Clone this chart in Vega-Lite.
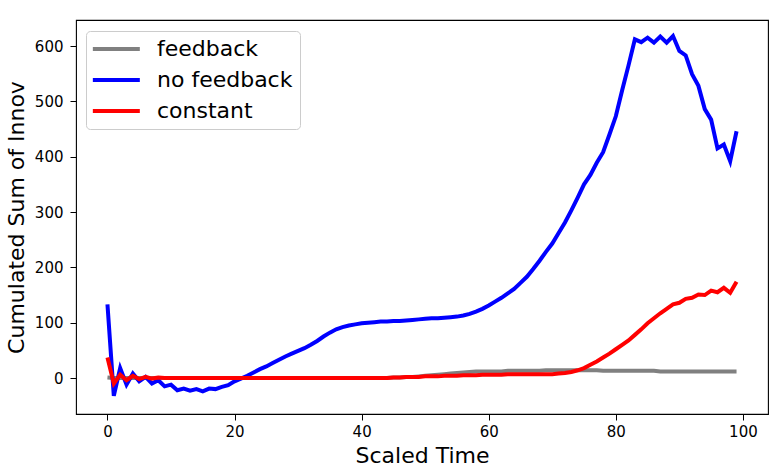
{
  "$schema": "https://vega.github.io/schema/vega-lite/v6.json",
  "width": 692,
  "height": 394,
  "autosize": "none",
  "padding": {"left": 76, "top": 20, "right": 10, "bottom": 53},
  "background": "white",
  "config": {
    "view": {"stroke": "black", "strokeWidth": 1.1},
    "font": "DejaVu Sans",
    "axis": {
      "grid": false,
      "domain": false,
      "tickColor": "black",
      "tickSize": 6,
      "tickWidth": 1,
      "labelColor": "black",
      "labelFont": "DejaVu Sans",
      "labelFontSize": 15,
      "labelPadding": 4,
      "titleFont": "DejaVu Sans",
      "titleFontSize": 22,
      "titleFontWeight": "normal",
      "titleColor": "black"
    }
  },
  "data": {
    "values": [
      {"t":0,"feedback":1,"no feedback":133,"constant":37},
      {"t":1,"feedback":0,"no feedback":-32,"constant":-10},
      {"t":2,"feedback":0,"no feedback":18,"constant":6},
      {"t":3,"feedback":0,"no feedback":-12,"constant":-4},
      {"t":4,"feedback":0,"no feedback":8,"constant":4},
      {"t":5,"feedback":0,"no feedback":-6,"constant":-2},
      {"t":6,"feedback":0,"no feedback":2,"constant":2},
      {"t":7,"feedback":0,"no feedback":-10,"constant":-1},
      {"t":8,"feedback":0,"no feedback":-4,"constant":1},
      {"t":9,"feedback":0,"no feedback":-15,"constant":0},
      {"t":10,"feedback":0,"no feedback":-12,"constant":0},
      {"t":11,"feedback":0,"no feedback":-22,"constant":0},
      {"t":12,"feedback":0,"no feedback":-19,"constant":0},
      {"t":13,"feedback":0,"no feedback":-23,"constant":0},
      {"t":14,"feedback":0,"no feedback":-20,"constant":0},
      {"t":15,"feedback":0,"no feedback":-24,"constant":0},
      {"t":16,"feedback":0,"no feedback":-19,"constant":0},
      {"t":17,"feedback":0,"no feedback":-20,"constant":0},
      {"t":18,"feedback":0,"no feedback":-16,"constant":0},
      {"t":19,"feedback":0,"no feedback":-13,"constant":0},
      {"t":20,"feedback":0,"no feedback":-6,"constant":0},
      {"t":21,"feedback":0,"no feedback":-1,"constant":0},
      {"t":22,"feedback":0,"no feedback":4,"constant":0},
      {"t":23,"feedback":0,"no feedback":10,"constant":0},
      {"t":24,"feedback":0,"no feedback":16,"constant":0},
      {"t":25,"feedback":0,"no feedback":21,"constant":0},
      {"t":26,"feedback":0,"no feedback":27,"constant":0},
      {"t":27,"feedback":0,"no feedback":33,"constant":0},
      {"t":28,"feedback":0,"no feedback":39,"constant":0},
      {"t":29,"feedback":0,"no feedback":44,"constant":0},
      {"t":30,"feedback":0,"no feedback":49,"constant":0},
      {"t":31,"feedback":0,"no feedback":54,"constant":0},
      {"t":32,"feedback":0,"no feedback":60,"constant":0},
      {"t":33,"feedback":0,"no feedback":67,"constant":0},
      {"t":34,"feedback":0,"no feedback":75,"constant":0},
      {"t":35,"feedback":0,"no feedback":82,"constant":0},
      {"t":36,"feedback":0,"no feedback":88,"constant":0},
      {"t":37,"feedback":0,"no feedback":92,"constant":0},
      {"t":38,"feedback":0,"no feedback":95,"constant":0},
      {"t":39,"feedback":0,"no feedback":97,"constant":0},
      {"t":40,"feedback":0,"no feedback":99,"constant":0},
      {"t":41,"feedback":0,"no feedback":100,"constant":0},
      {"t":42,"feedback":0,"no feedback":101,"constant":0},
      {"t":43,"feedback":0,"no feedback":102,"constant":0},
      {"t":44,"feedback":0,"no feedback":102,"constant":0},
      {"t":45,"feedback":1,"no feedback":103,"constant":1},
      {"t":46,"feedback":1,"no feedback":103,"constant":1},
      {"t":47,"feedback":2,"no feedback":104,"constant":2},
      {"t":48,"feedback":2,"no feedback":105,"constant":2},
      {"t":49,"feedback":3,"no feedback":106,"constant":2},
      {"t":50,"feedback":4,"no feedback":107,"constant":3},
      {"t":51,"feedback":5,"no feedback":108,"constant":3},
      {"t":52,"feedback":6,"no feedback":108,"constant":3},
      {"t":53,"feedback":7,"no feedback":109,"constant":4},
      {"t":54,"feedback":8,"no feedback":110,"constant":4},
      {"t":55,"feedback":9,"no feedback":111,"constant":4},
      {"t":56,"feedback":10,"no feedback":113,"constant":5},
      {"t":57,"feedback":11,"no feedback":116,"constant":5},
      {"t":58,"feedback":12,"no feedback":120,"constant":5},
      {"t":59,"feedback":12,"no feedback":125,"constant":6},
      {"t":60,"feedback":12,"no feedback":131,"constant":6},
      {"t":61,"feedback":12,"no feedback":138,"constant":6},
      {"t":62,"feedback":12,"no feedback":145,"constant":6},
      {"t":63,"feedback":13,"no feedback":153,"constant":7},
      {"t":64,"feedback":13,"no feedback":161,"constant":7},
      {"t":65,"feedback":13,"no feedback":172,"constant":7},
      {"t":66,"feedback":13,"no feedback":183,"constant":7},
      {"t":67,"feedback":13,"no feedback":197,"constant":7},
      {"t":68,"feedback":13,"no feedback":212,"constant":7},
      {"t":69,"feedback":14,"no feedback":228,"constant":7},
      {"t":70,"feedback":14,"no feedback":243,"constant":7},
      {"t":71,"feedback":14,"no feedback":262,"constant":8},
      {"t":72,"feedback":14,"no feedback":281,"constant":9},
      {"t":73,"feedback":14,"no feedback":303,"constant":11},
      {"t":74,"feedback":14,"no feedback":326,"constant":14},
      {"t":75,"feedback":14,"no feedback":350,"constant":18},
      {"t":76,"feedback":14,"no feedback":367,"constant":24},
      {"t":77,"feedback":14,"no feedback":389,"constant":30},
      {"t":78,"feedback":13,"no feedback":408,"constant":37},
      {"t":79,"feedback":13,"no feedback":440,"constant":44},
      {"t":80,"feedback":13,"no feedback":473,"constant":52},
      {"t":81,"feedback":13,"no feedback":520,"constant":60},
      {"t":82,"feedback":13,"no feedback":565,"constant":68},
      {"t":83,"feedback":13,"no feedback":612,"constant":78},
      {"t":84,"feedback":13,"no feedback":607,"constant":88},
      {"t":85,"feedback":13,"no feedback":615,"constant":99},
      {"t":86,"feedback":13,"no feedback":606,"constant":108},
      {"t":87,"feedback":12,"no feedback":617,"constant":117},
      {"t":88,"feedback":12,"no feedback":606,"constant":125},
      {"t":89,"feedback":12,"no feedback":618,"constant":133},
      {"t":90,"feedback":12,"no feedback":591,"constant":136},
      {"t":91,"feedback":12,"no feedback":583,"constant":143},
      {"t":92,"feedback":12,"no feedback":549,"constant":145},
      {"t":93,"feedback":12,"no feedback":528,"constant":151},
      {"t":94,"feedback":12,"no feedback":486,"constant":150},
      {"t":95,"feedback":12,"no feedback":467,"constant":158},
      {"t":96,"feedback":12,"no feedback":415,"constant":155},
      {"t":97,"feedback":12,"no feedback":422,"constant":163},
      {"t":98,"feedback":12,"no feedback":392,"constant":154},
      {"t":99,"feedback":12,"no feedback":446,"constant":174}
    ]
  },
  "transform": [
    {"fold": ["feedback", "no feedback", "constant"], "as": ["series", "value"]}
  ],
  "mark": {"type": "line", "strokeWidth": 4, "clip": true},
  "encoding": {
    "x": {
      "field": "t",
      "type": "quantitative",
      "title": "Scaled Time",
      "scale": {"domain": [-4.95, 103.95], "nice": false, "zero": false},
      "axis": {"values": [0, 20, 40, 60, 80, 100], "labelPadding": 4, "titlePadding": 6}
    },
    "y": {
      "field": "value",
      "type": "quantitative",
      "title": "Cumulated Sum of Innov",
      "scale": {"domain": [-65, 647], "nice": false, "zero": false},
      "axis": {"values": [0, 100, 200, 300, 400, 500, 600], "labelPadding": 7, "titlePadding": 6}
    },
    "color": {
      "field": "series",
      "type": "nominal",
      "scale": {
        "domain": ["feedback", "no feedback", "constant"],
        "range": ["#808080", "#0000ff", "#ff0000"]
      },
      "legend": {
        "title": null,
        "orient": "none",
        "legendX": 10,
        "legendY": 11,
        "symbolType": "M-1.9,0H6.1",
        "symbolSize": 138,
        "symbolStrokeWidth": 4,
        "labelFontSize": 22,
        "labelFont": "DejaVu Sans",
        "labelColor": "black",
        "labelOffset": 42,
        "rowPadding": 9,
        "padding": 7,
        "fillColor": "white",
        "strokeColor": "#cccccc",
        "cornerRadius": 4
      }
    }
  }
}
